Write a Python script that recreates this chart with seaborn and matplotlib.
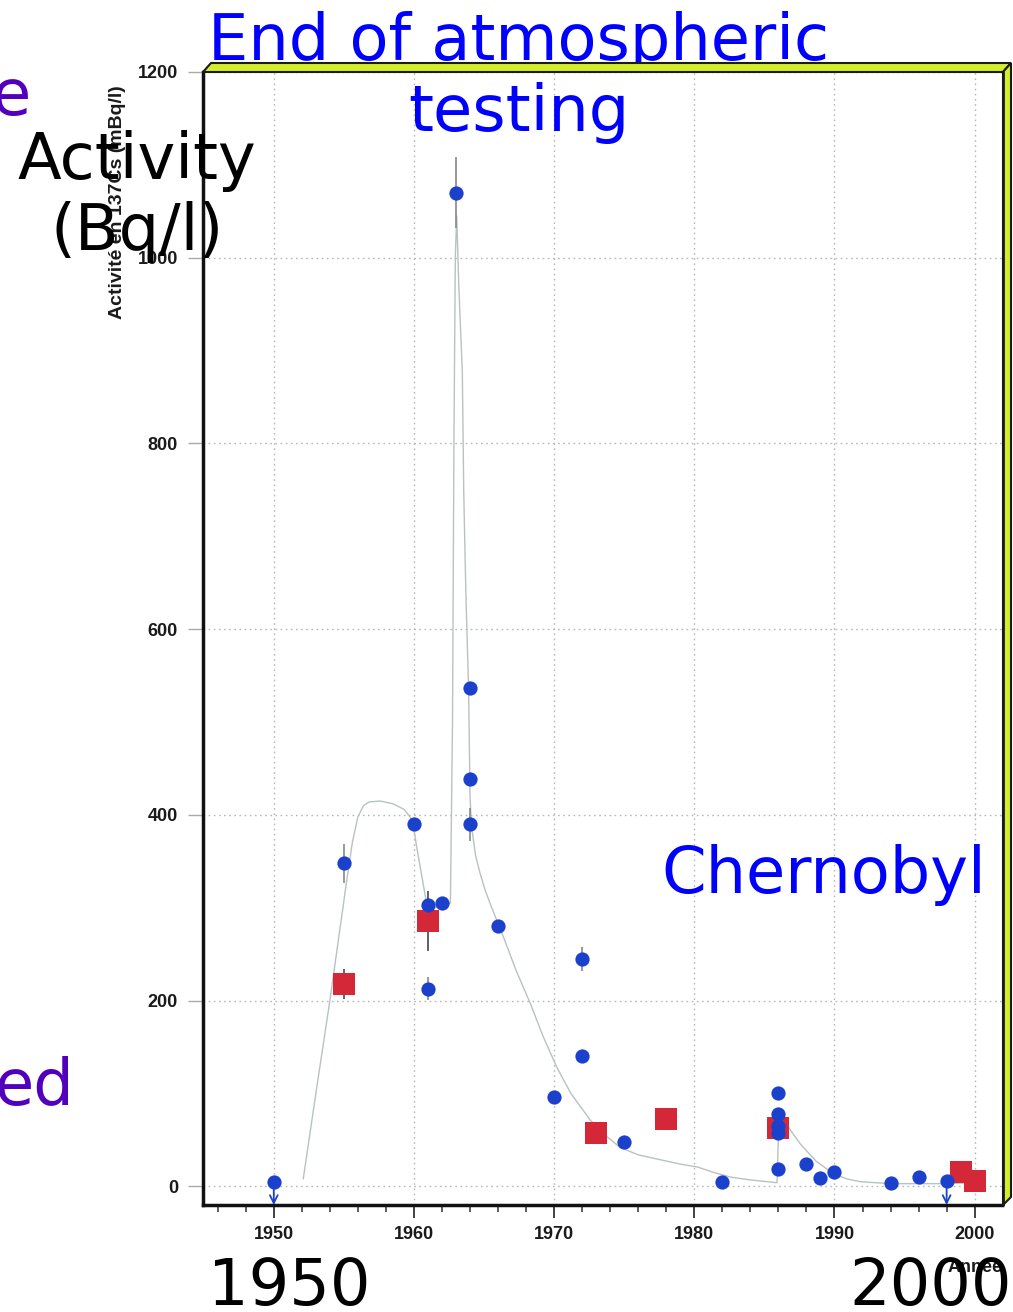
import numpy as np
import pandas as pd
import seaborn as sns
import matplotlib.pyplot as plt
from matplotlib.patches import Polygon
from matplotlib.ticker import MultipleLocator

# ---------------- data ----------------
circle_year = [1950, 1955, 1960, 1961, 1961, 1962, 1963, 1964, 1964, 1964, 1966, 1970,
               1972, 1972, 1975, 1982, 1986, 1986, 1986, 1986, 1986, 1988, 1989, 1990,
               1994, 1996, 1998]
circle_val = [5, 348, 390, 303, 213, 305, 1070, 537, 439, 390, 280, 96,
              245, 140, 48, 5, 101, 78, 65, 57, 19, 24, 9, 16,
              4, 10, 6]
circle_err = [0, 21, 0, 0, 12, 0, 38, 0, 0, 18, 0, 0,
              13, 0, 0, 0, 0, 0, 0, 0, 0, 0, 0, 0,
              0, 0, 0]

square_year = [1955, 1961, 1973, 1978, 1986, 1999, 2000]
square_val = [218, 286, 57, 73, 63, 16, 6]
square_err = [16, 32, 0, 0, 0, 0, 0]

limit_year = [1950, 1998]
limit_val = [5, 6]

curve_year = [1952.1, 1953.0, 1954.0, 1955.2, 1955.6, 1956.0, 1956.4, 1956.8, 1957.6,
              1958.5, 1959.3, 1959.9, 1960.2, 1960.9, 1961.5, 1962.6, 1962.75, 1962.85,
              1962.95, 1963.05, 1963.2, 1963.45, 1963.55, 1963.7, 1963.9, 1964.0, 1964.1,
              1964.4, 1964.7, 1965.1, 1965.5, 1966.4, 1967.3, 1968.3, 1969.2, 1970.2,
              1971.2, 1972.6, 1973.5, 1974.7, 1976.0, 1977.8, 1979.0, 1980.2, 1981.4,
              1982.6, 1984.0, 1985.9, 1986.05, 1986.8, 1987.6, 1988.7, 1989.9, 1990.9,
              1991.9, 1994.0, 1998.0, 2000.0]
curve_val = [8, 100, 200, 329, 370, 398, 410, 414, 415,
             412, 406, 394, 365, 305, 300, 305, 500, 800,
             1000, 1045, 969, 877, 748, 641, 533, 420, 388,
             356, 338, 318, 302, 268, 232, 197, 162, 128,
             100, 71, 57, 42, 34, 28, 24, 21, 15,
             10, 7, 4, 80, 62, 45, 27, 14, 8,
             5, 3, 3, 4]

x_ticks = [1950, 1960, 1970, 1980, 1990, 2000]
y_ticks = [0, 200, 400, 600, 800, 1000, 1200]

# ---------------- style ----------------
sns.set_theme(style="white")
plt.rcParams['font.family'] = ['DejaVu Sans']

BLUE_M = '#1a40cc'
RED_M = '#d42838'
BLUE_T = '#0000ff'
PURPLE = '#5200bd'

W, H = 1013, 1312
fig = plt.figure(figsize=(W / 100, H / 100), dpi=100)
fig.patch.set_facecolor('white')


def fx(px):
    return px / W


def fy(py):
    return 1 - py / H


ax = fig.add_axes([fx(203), fy(1205), fx(1002) - fx(203), fy(72) - fy(1205)])
ax.set_facecolor('white')

curve = pd.DataFrame({'year': curve_year, 'val': curve_val})
circles = pd.DataFrame({'year': circle_year, 'val': circle_val, 'err': circle_err})
squares = pd.DataFrame({'year': square_year, 'val': square_val, 'err': square_err})

sns.lineplot(data=curve, x='year', y='val', sort=False, estimator=None,
             color='#b9c1c1', linewidth=1.0, ax=ax, zorder=2)

ax.errorbar(squares['year'], squares['val'], yerr=squares['err'], fmt='none',
            ecolor='#555555', elinewidth=1.3, capsize=0, zorder=2.5)
ax.errorbar(circles['year'], circles['val'], yerr=circles['err'], fmt='none',
            ecolor='#888888', elinewidth=1.2, capsize=0, zorder=2.5)

sns.scatterplot(data=squares, x='year', y='val', marker='s', s=235, color=RED_M,
                linewidth=0, ax=ax, zorder=3)
sns.scatterplot(data=circles, x='year', y='val', marker='o', s=105, color=BLUE_M,
                linewidth=0, ax=ax, zorder=4)

ax.set_xlim(1944.95, 2001.95)
ax.set_ylim(-20, 1200)

for yr, v in zip(limit_year, limit_val):
    ax.annotate('', xy=(yr, ax.get_ylim()[0]), xytext=(yr, v),
                arrowprops=dict(arrowstyle='->', color=BLUE_M, lw=1.3,
                                mutation_scale=14, shrinkA=0, shrinkB=0),
                zorder=4)

ax.set_xticks(x_ticks)
ax.set_yticks(y_ticks)
ax.xaxis.set_minor_locator(MultipleLocator(2))
ax.grid(True, which='major', linestyle=(0, (1.2, 2.5)), color='#b4b9b9', linewidth=1.0)
ax.set_axisbelow(True)

for s in ['top', 'right']:
    ax.spines[s].set_visible(False)
for s in ['left', 'bottom']:
    ax.spines[s].set_color('#111111')
    ax.spines[s].set_linewidth(2.5)

tick_font = dict(family='Liberation Sans', weight='bold', size=13)
ax.tick_params(axis='x', which='major', direction='out', length=9, width=1.2,
               color='#222222', pad=6, bottom=True)
ax.tick_params(axis='x', which='minor', direction='out', length=5, width=1.2,
               color='#444444', bottom=True)
ax.tick_params(axis='y', which='major', direction='out', length=11, width=1.0,
               color='#aaaaaa', pad=7, left=True)
for lab in ax.get_xticklabels() + ax.get_yticklabels():
    lab.set_fontproperties(tick_font)
    lab.set_color('#1a1a1a')

ax.set_xlabel('Année', fontdict=tick_font, color='#1a1a1a')
ax.xaxis.set_label_coords((975 - 203) / 799, -(1268 - 1205) / 1133)
ax.xaxis.label.set_verticalalignment('center')
ax.set_ylabel('Activité en 137Cs (mBq/l)', fontdict=dict(family='Liberation Sans',
              weight='bold', size=14), color='#1a1a1a')
ax.yaxis.set_label_coords((118 - 203) / 799, 1 - (202 - 72) / 1133)
ax.yaxis.label.set_verticalalignment('center')

# 3D-like yellow frame on top and right
frame_kw = dict(transform=fig.transFigure, facecolor='#d4ee2a', edgecolor='#1a1a1a',
                linewidth=1.5, zorder=5)
top_bar = Polygon([(fx(203), fy(72)), (fx(211), fy(63)), (fx(1011), fy(63)),
                   (fx(1003), fy(72))], closed=True, **frame_kw)
right_bar = Polygon([(fx(1003), fy(72)), (fx(1011), fy(63)), (fx(1011), fy(1197)),
                     (fx(1003), fy(1205))], closed=True, **frame_kw)
fig.add_artist(top_bar)
fig.add_artist(right_bar)
fig.add_artist(plt.Line2D([fx(1003), fx(1003)], [fy(72), fy(1205)],
                          transform=fig.transFigure, color='#1a1a1a', lw=2, zorder=6))

# overlay annotations (baseline of the last line is anchored)
big = dict(fontsize=46, family='DejaVu Sans', linespacing=1.19)
fig.text(fx(519), fy(131), 'End of atmospheric\ntesting', color=BLUE_T,
         ha='center', va='baseline', multialignment='center', **big)
fig.text(fx(137), fy(250), 'Activity\n(Bq/l)', color='black',
         ha='center', va='baseline', multialignment='center', **big)
fig.text(fx(824), fy(893), 'Chernobyl', color=BLUE_T, ha='center', va='baseline', **big)
fig.text(fx(289), fy(1305), '1950', color='black', ha='center', va='baseline', **big)
fig.text(fx(931), fy(1305), '2000', color='black', ha='center', va='baseline', **big)
fig.text(fx(31), fy(115), 'e', color=PURPLE, ha='right', va='baseline', **big)
fig.text(fx(74), fy(1105), 'ed', color=PURPLE, ha='right', va='baseline', **big)

fig.savefig('out.png', dpi=100)
